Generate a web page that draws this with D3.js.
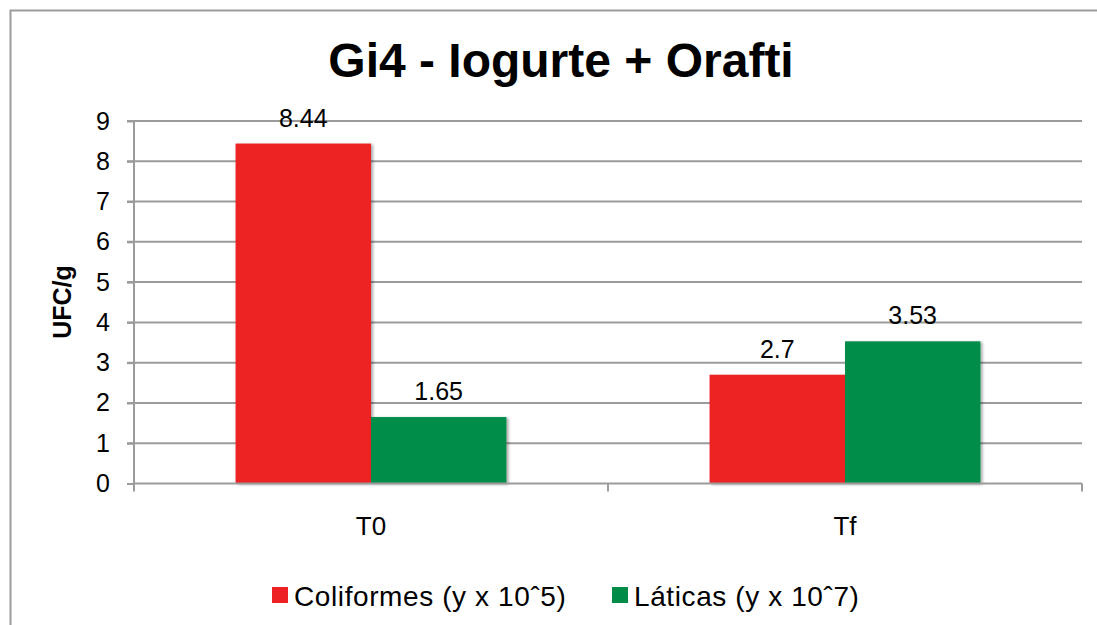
<!DOCTYPE html>
<html lang="pt">

<head>
    <meta charset="UTF-8">
    <title>Gi4 - Iogurte + Orafti</title>
    <script src="https://d3js.org/d3.v7.min.js"></script>
    <style>
        body {
            margin: 0;
            background: #fff;
            overflow: hidden;
        }

        text {
            font-family: "Liberation Sans", Arial, Helvetica, sans-serif;
            fill: #000;
        }
    </style>
</head>

<body>
    <div id="chart"></div>

    <script>
        // dados
        let categories = ["T0", "Tf"];
        let seriesNames = ["Coliformes (y x 10ˆ5)", "Láticas (y x 10ˆ7)"];
        let coliformes = [8.44, 2.7];
        let laticas = [1.65, 3.53];
        let yTicks = [0, 1, 2, 3, 4, 5, 6, 7, 8, 9];

        let colors = ["#ed2024", "#008c48"];
        let gridColor = "#9b9b9b";

        let width = 1097, height = 625;
        let plotLeft = 134, plotRight = 1082, plotTop = 121, plotBottom = 483.5;

        let svg = d3.select("#chart").append("svg")
            .attr("width", width)
            .attr("height", height);

        // sombra das barras
        let defs = svg.append("defs");
        let filter = defs.append("filter").attr("id", "shadow")
            .attr("x", "-10%").attr("y", "-10%").attr("width", "130%").attr("height", "130%");
        filter.append("feGaussianBlur").attr("in", "SourceAlpha").attr("stdDeviation", 1.5);
        filter.append("feOffset").attr("dx", 2).attr("dy", 1).attr("result", "off");
        filter.append("feComponentTransfer").append("feFuncA").attr("type", "linear").attr("slope", 0.35);
        let merge = filter.append("feMerge");
        merge.append("feMergeNode");
        merge.append("feMergeNode").attr("in", "SourceGraphic");

        // moldura externa (cortada à direita e embaixo)
        svg.append("rect")
            .attr("x", 10.5).attr("y", 10.5)
            .attr("width", width + 20).attr("height", height + 20)
            .attr("fill", "none")
            .attr("stroke", gridColor)
            .attr("stroke-width", 2);

        let y = d3.scaleLinear().domain([0, 9]).range([plotBottom, plotTop]);

        let x0 = d3.scaleBand().domain(categories).range([plotLeft, plotRight]);
        let barW = x0.bandwidth() / 3.5; // gap width 150%
        let x1 = d3.scaleBand().domain(seriesNames).range([0, 2 * barW]);
        let groupOffset = 0.75 * barW;

        // linhas de grade
        svg.append("g").selectAll("line")
            .data(yTicks.filter(d => d > 0))
            .enter().append("line")
            .attr("x1", plotLeft - 7).attr("x2", plotRight)
            .attr("y1", d => y(d)).attr("y2", d => y(d))
            .attr("stroke", gridColor)
            .attr("stroke-width", 2);

        // eixo y
        let yAxis = svg.append("g")
            .attr("transform", "translate(" + plotLeft + ",0)")
            .call(d3.axisLeft(y).tickValues(yTicks).tickSize(7).tickSizeOuter(0).tickPadding(17));
        yAxis.select(".domain").attr("stroke", gridColor).attr("stroke-width", 2)
            .attr("d", "M0," + y(9) + "V" + (plotBottom + 7));
        yAxis.selectAll(".tick line").attr("stroke", gridColor).attr("stroke-width", 2);
        yAxis.selectAll(".tick text")
            .attr("font-size", 25)
            .attr("font-family", "Liberation Sans, Arial, sans-serif")
            .attr("fill", "#000");

        // dados agrupados
        let rows = categories.map((c, i) => ({ cat: c, values: [coliformes[i], laticas[i]] }));

        let groups = svg.append("g").selectAll("g")
            .data(rows)
            .enter().append("g")
            .attr("transform", d => "translate(" + (x0(d.cat) + groupOffset) + ",0)");

        groups.selectAll("rect")
            .data(d => d.values.map((v, j) => ({ name: seriesNames[j], value: v, idx: j })))
            .enter().append("rect")
            .attr("x", d => x1(d.name))
            .attr("y", d => y(d.value))
            .attr("width", x1.bandwidth())
            .attr("height", d => y(0) - y(d.value))
            .attr("fill", d => colors[d.idx])
            .style("filter", "url(#shadow)");

        // eixo x
        svg.append("line")
            .attr("x1", plotLeft).attr("x2", plotRight)
            .attr("y1", plotBottom).attr("y2", plotBottom)
            .attr("stroke", gridColor).attr("stroke-width", 2);

        let xTickPos = categories.map(c => x0(c)).concat([x0(categories[categories.length - 1]) + x0.bandwidth()]);
        svg.append("g").selectAll("line")
            .data(xTickPos)
            .enter().append("line")
            .attr("x1", d => d).attr("x2", d => d)
            .attr("y1", plotBottom).attr("y2", plotBottom + 8)
            .attr("stroke", gridColor).attr("stroke-width", 2);

        svg.append("g").selectAll("text")
            .data(categories)
            .enter().append("text")
            .attr("x", d => x0(d) + x0.bandwidth() / 2)
            .attr("y", 535)
            .attr("text-anchor", "middle")
            .attr("font-size", 26)
            .text(d => d);

        // rótulos de dados
        groups.selectAll("text")
            .data(d => d.values.map((v, j) => ({ name: seriesNames[j], value: v })))
            .enter().append("text")
            .attr("x", d => x1(d.name) + x1.bandwidth() / 2)
            .attr("y", d => y(d.value) - 17)
            .attr("text-anchor", "middle")
            .attr("font-size", 25)
            .text(d => d.value);

        // título
        svg.append("text")
            .attr("x", 561)
            .attr("y", 77)
            .attr("text-anchor", "middle")
            .attr("font-size", 48)
            .attr("font-weight", "bold")
            .text("Gi4 - Iogurte + Orafti");

        // título do eixo y
        svg.append("text")
            .attr("transform", "translate(71,302) rotate(-90)")
            .attr("text-anchor", "middle")
            .attr("font-size", 25)
            .attr("font-weight", "bold")
            .text("UFC/g");

        // legenda
        let legendX = [272, 612];
        let legend = svg.append("g").selectAll("g")
            .data(seriesNames)
            .enter().append("g")
            .attr("transform", (d, i) => "translate(" + legendX[i] + ",587)");

        legend.append("rect")
            .attr("width", 16).attr("height", 16)
            .attr("fill", (d, i) => colors[i]);

        legend.append("text")
            .attr("x", 22)
            .attr("y", 19)
            .attr("font-size", 28)
            .attr("letter-spacing", 0.6)
            .text(d => d);
    </script>
</body>

</html>
